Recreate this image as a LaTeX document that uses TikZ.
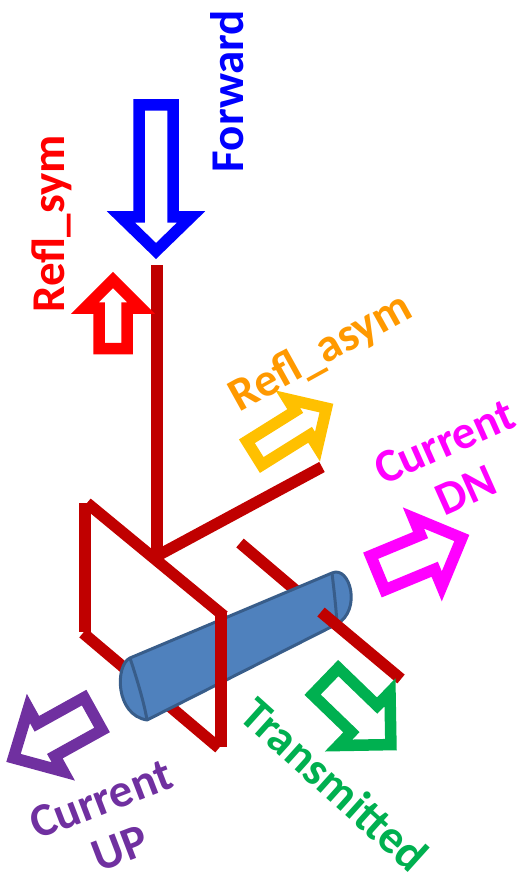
\documentclass[tikz,border=0pt]{standalone}
\usepackage{fontspec}
\setmainfont{Carlito}

\definecolor{wireRed}{HTML}{C00000}
\definecolor{canBlue}{HTML}{4F81BD}
\definecolor{canEdge}{HTML}{385D8A}
\definecolor{fwdBlue}{HTML}{0000FF}
\definecolor{symRed}{HTML}{FF0000}
\definecolor{asymGold}{HTML}{FFC000}
\definecolor{asymText}{HTML}{FF9900}
\definecolor{dnMagenta}{HTML}{FF00FF}
\definecolor{transGreen}{HTML}{00B050}
\definecolor{upPurple}{HTML}{7030A0}

% Hollow block arrow: colour, tip, direction angle,
% shaft half-width, head half-width, head length, shaft length
\newcommand{\blockarrow}[7]{%
  \begin{scope}[shift={#2}, rotate=#3]
    \draw[blockout, draw=#1] (0,0) -- (-#6,#5) -- (-#6,#4) -- ({-#6-#7},#4)
      -- ({-#6-#7},-#4) -- (-#6,-#4) -- (-#6,-#5) -- cycle;
  \end{scope}}

\begin{document}
\begin{tikzpicture}[x=1pt, y=-1pt,
  wire/.style={draw=wireRed, line width=11.5pt, line cap=butt},
  blockout/.style={line width=11.5pt, line join=miter, miter limit=10, fill=white},
  lbl/.style={font=\fontsize{47}{53}\selectfont\bfseries, inner sep=0pt, align=center},
  can/.style={fill=canBlue, draw=canEdge, line width=3pt, line join=round},
  canrim/.style={draw=canEdge, line width=3pt},
]
\useasboundingbox (0,0) rectangle (520,877);

% wires behind the can
\coordinate (feedTop) at (157,265);
\coordinate (feedBot) at (157,561);
\coordinate (branchA) at (155,557);
\coordinate (branchB) at (322,467);
\coordinate (plateTL) at (85,503);
\coordinate (plateBL) at (85,632);
\coordinate (edgeTopA) at (87,503);
\coordinate (edgeTopB) at (224,616);
\coordinate (edgeBotA) at (83,633);
\coordinate (edgeBotB) at (219,748);
\coordinate (stubA) at (240,543);
\coordinate (stubB) at (300,594);

\draw[wire] (feedTop) -- (feedBot);
\draw[wire] (branchA) -- (branchB);
\draw[wire] (plateTL) -- (plateBL);
\draw[wire] (edgeTopA) -- (edgeTopB);
\draw[wire] (edgeBotA) -- (edgeBotB);
\draw[wire] (stubA) -- (stubB);

% the can
\coordinate (canT1) at (130,658);
\coordinate (canB1) at (147,720);
\coordinate (canT2) at (332,573);
\coordinate (canB2) at (337,624);
\draw[can] (canT1) -- (canT2) .. controls (350,565) and (362,610) .. (canB2)
  -- (canB1) .. controls (115,715) and (115,665) .. (canT1) -- cycle;
\draw[canrim] (canT1) .. controls (136,676) and (144,702) .. (canB1);
\draw[canrim] (canT2) .. controls (334,590) and (336,607) .. (canB2);

% wires in front of the can
\coordinate (plateTR) at (221,612);
\coordinate (plateBR) at (221,747);
\coordinate (outA) at (321,612);
\coordinate (outB) at (401,679);
\draw[wire] (plateTR) -- (plateBR);
\draw[wire] (outA) -- (outB);

% block arrows
\blockarrow{fwdBlue}{(156,251)}{-90}{17}{35}{34}{112}
\blockarrow{symRed}{(113,280)}{90}{14}{28}{28}{40.5}
\blockarrow{asymGold}{(326.4,408.1)}{32}{14}{28}{28}{57}
\blockarrow{dnMagenta}{(461.8,538)}{22.5}{18.5}{37}{37}{54}
\blockarrow{transGreen}{(390.9,744.6)}{-44}{18.5}{37}{37}{54}
\blockarrow{upPurple}{(13.5,757.9)}{-151}{18.5}{36}{37}{54}

% labels
\node[lbl, text=fwdBlue, rotate=90] (fwd) at (227.5,91) {Forward};
\node[lbl, text=symRed, rotate=90] (sym) at (51.5,224) {Refl\_sym};
\node[lbl, text=asymText, rotate=29] (asym) at (321,353) {Refl\_asym};
\node[lbl, text=dnMagenta, rotate=24] (dn) at (455,466) {Current\\DN};
\node[lbl, text=transGreen, rotate=-42] (trans) at (335,784) {Transmitted};
\node[lbl, text=upPurple, rotate=21] (up) at (110.5,824) {Current\\UP};
\end{tikzpicture}
\end{document}
